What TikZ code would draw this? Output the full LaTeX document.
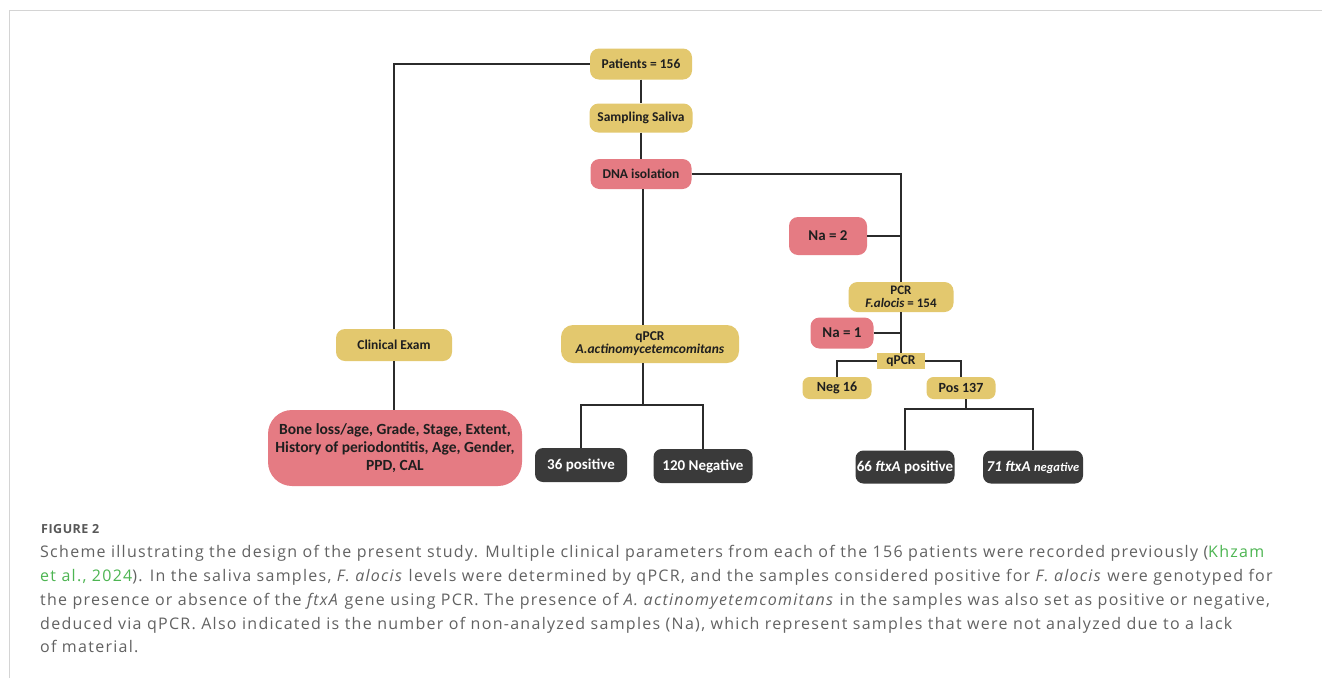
\documentclass[tikz,border=0pt]{standalone}
\usepackage{fontspec}
\setmainfont{Carlito}
\newfontfamily\capfont[LetterSpace=8]{Open Sans}
\newfontfamily\figfont[LetterSpace=4]{Open Sans}
\definecolor{yfill}{HTML}{E3C86E}
\definecolor{pfill}{HTML}{E57B83}
\definecolor{dfill}{HTML}{3A3A3A}
\definecolor{linec}{HTML}{2B2B2B}
\definecolor{capgray}{HTML}{626262}
\definecolor{capgreen}{HTML}{4DB552}
\definecolor{framec}{HTML}{D4D4D4}
\newcommand{\fs}[1]{\fontsize{#1}{#1}\selectfont}
\begin{document}
\begin{tikzpicture}[x=1pt,y=-1pt,
  font=\bfseries\fs{13.5},
  box/.style={rounded corners=9pt, inner sep=0pt, align=center, text=black!88},
  ybox/.style={box, fill=yfill},
  pbox/.style={box, fill=pfill},
  dbox/.style={box, fill=dfill, text=white, rounded corners=8pt, font=\bfseries\fs{15}},
  mainline/.style={draw=linec, line width=2.8pt},
  subline/.style={draw=linec, line width=2.1pt},
  capline/.style={anchor=base west, inner sep=0pt, text=capgray, font=\capfont\fs{16}}
]
\useasboundingbox[fill=white] (0,0) rectangle (1322,678);
\draw[framec, line width=1.3pt] (9.5,678) -- (9.5,10.5) -- (1322,10.5);

% nodes
\node[ybox, minimum width=102, minimum height=31] (pat) at (641,64) {Patients = 156};
\node[ybox, minimum width=103, minimum height=29] (samp) at (641,118) {Sampling Saliva};
\node[pbox, minimum width=101, minimum height=30] (dna) at (641,174) {DNA isolation};
\node[pbox, minimum width=78, minimum height=38, font=\bfseries\fs{15}] (na2) at (828,236) {Na = 2};
\node[ybox, minimum width=105, minimum height=30, font=\bfseries\fontsize{13}{13}\selectfont] (pcr) at (901,297) {PCR\\\textit{F.alocis} = 154};
\node[pbox, minimum width=63, minimum height=31, font=\bfseries\fs{15}] (na1) at (842,333) {Na = 1};
\node[fill=yfill, inner sep=0pt, minimum width=48, minimum height=16, text=black!88] (qp2) at (901,361) {qPCR};
\node[ybox, rounded corners=7pt, minimum width=69, minimum height=22, font=\bfseries\fs{14}] (neg) at (837,388) {Neg 16};
\node[ybox, rounded corners=7pt, minimum width=69, minimum height=22, font=\bfseries\fs{14}] (pos) at (961,388) {Pos 137};
\node[dbox, minimum width=99, minimum height=33] (ftxp) at (905,467) {66 \textit{ftxA} positive};
\node[dbox, minimum width=100, minimum height=33] (ftxn) at (1033,467) {\textit{71 ftxA} {\itshape\fs{12.5}negative}};
\node[ybox, minimum width=116, minimum height=32] (clin) at (394,345) {Clinical Exam};
\node[pbox, rounded corners=24pt, minimum width=254, minimum height=76, font=\bfseries\fontsize{15.5}{18}\selectfont] (bone) at (395,448) {Bone loss/age, Grade, Stage, Extent,\\History of periodontitis, Age, Gender,\\PPD, CAL};
\node[ybox, rounded corners=12pt, minimum width=178, minimum height=38, font=\bfseries\fontsize{13.5}{13}\selectfont] (qpa) at (650,344) {qPCR\\\textit{A.actinomycetemcomitans}};
\node[dbox, minimum width=92, minimum height=34] (p36) at (581,465) {36 positive};
\node[dbox, minimum width=99, minimum height=34] (n120) at (703,466) {120 Negative};

% helper coordinates
\coordinate (s1) at (643,405);
\coordinate (s2) at (966,409);

% connectors
\path[mainline] (pat.west) -| (clin.north);
\path[mainline] (clin.south) -- (clin.south |- bone.north);
\path[mainline] (pat.south) -- (samp.north);
\path[mainline] (samp.south) -- (dna.north);
\path[mainline] (dna.south -| s1) -- (s1 |- qpa.north);
\path[mainline] (dna.east) -| (pcr.north);
\path[mainline] (na2.east) -- (na2.east -| pcr.north);
\path[mainline] (pcr.south) -- (qp2.north);
\path[mainline] (na1.east) -- (na1.east -| pcr.south);
\path[subline] (qp2.west) -| (neg.north);
\path[subline] (qp2.east) -| (pos.north);
\path[subline] (s1 |- qpa.south) -- (s1);
\path[subline] (p36.north) |- (s1) -| (n120.north);
\path[subline] (s2 |- pos.south) -- (s2);
\path[subline] (ftxp.north) |- (s2) -| (ftxn.north);

% caption
\node[anchor=base west, inner sep=0pt, text=capgray!90!black, font=\figfont\bfseries\fs{12.5}] (fig) at (41,533) {FIGURE 2};
\node[capline] (c1) at (40,557) {Scheme illustrating the design of the present study. Multiple clinical parameters from each of the 156 patients were recorded previously (\textcolor{capgreen}{Khzam}};
\node[capline] (c2) at (40,581) {\textcolor{capgreen}{et al., 2024}). In the saliva samples, \textit{F. alocis} levels were determined by qPCR, and the samples considered positive for \textit{F. alocis} were genotyped for};
\node[capline] (c3) at (40,605) {the presence or absence of the \textit{ftxA} gene using PCR. The presence of \textit{A. actinomyetemcomitans} in the samples was also set as positive or negative,};
\node[capline] (c4) at (40,629) {deduced via qPCR. Also indicated is the number of non-analyzed samples (Na), which represent samples that were not analyzed due to a lack};
\node[capline] (c5) at (40,652) {of material.};
\end{tikzpicture}
\end{document}
